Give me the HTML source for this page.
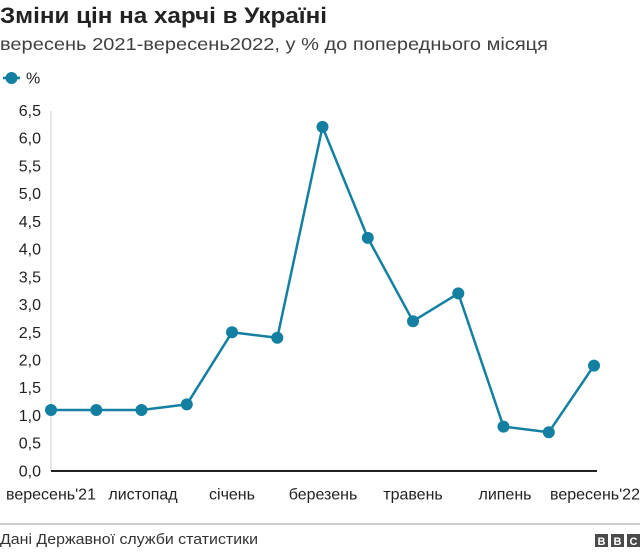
<!DOCTYPE html>
<html><head><meta charset="utf-8">
<style>
html,body{margin:0;padding:0;background:#fff;}
body{width:640px;height:552px;overflow:hidden;}
svg{display:block;}
text{font-family:"Liberation Sans",Arial,sans-serif;}
</style></head>
<body>
<svg width="640" height="552" viewBox="0 0 640 552" xmlns="http://www.w3.org/2000/svg">
<text x="0" y="23" font-size="22" font-weight="bold" fill="#222" textLength="327" lengthAdjust="spacingAndGlyphs">Зміни цін на харчі в Україні</text>
<text x="0" y="50" font-size="17.5" fill="#404040" textLength="548" lengthAdjust="spacingAndGlyphs">вересень 2021-вересень2022, у % до попереднього місяця</text>
<line x1="3" y1="78" x2="20" y2="78" stroke="#1380a1" stroke-width="2.5"/>
<circle cx="11.5" cy="78" r="6" fill="#1380a1"/>
<text x="26" y="83.5" font-size="16" fill="#222">%</text>
<g font-size="16" fill="#222" text-anchor="end">
<text x="41" y="116">6,5</text>
<text x="41" y="143.7">6,0</text>
<text x="41" y="171.4">5,5</text>
<text x="41" y="199.1">5,0</text>
<text x="41" y="226.9">4,5</text>
<text x="41" y="254.6">4,0</text>
<text x="41" y="282.3">3,5</text>
<text x="41" y="310">3,0</text>
<text x="41" y="337.8">2,5</text>
<text x="41" y="365.5">2,0</text>
<text x="41" y="393.2">1,5</text>
<text x="41" y="420.9">1,0</text>
<text x="41" y="448.7">0,5</text>
<text x="41" y="476.4">0,0</text>
</g>
<line x1="51" y1="111" x2="51" y2="471" stroke="#cccccc" stroke-width="1"/>
<line x1="51" y1="471" x2="597" y2="471" stroke="#222" stroke-width="2"/>
<polyline fill="none" stroke="#1380a1" stroke-width="2.5" stroke-linejoin="round"
points="51,410 96.3,410 141.5,410 186.8,404.4 232,332.3 277.3,337.8 322.5,126.9 367.8,237.9 413,321.2 458.3,293.4 503.5,426.6 548.8,432.2 594,365.6"/>
<g fill="#1380a1">
<circle cx="51" cy="410" r="6"/>
<circle cx="96.3" cy="410" r="6"/>
<circle cx="141.5" cy="410" r="6"/>
<circle cx="186.8" cy="404.4" r="6"/>
<circle cx="232" cy="332.3" r="6"/>
<circle cx="277.3" cy="337.8" r="6"/>
<circle cx="322.5" cy="126.9" r="6"/>
<circle cx="367.8" cy="237.9" r="6"/>
<circle cx="413" cy="321.2" r="6"/>
<circle cx="458.3" cy="293.4" r="6"/>
<circle cx="503.5" cy="426.6" r="6"/>
<circle cx="548.8" cy="432.2" r="6"/>
<circle cx="594" cy="365.6" r="6"/>
</g>
<g font-size="16" fill="#222" text-anchor="middle">
<text x="51" y="499.5">вересень'21</text>
<text x="143" y="499.5">листопад</text>
<text x="232" y="499.5">січень</text>
<text x="323" y="499.5">березень</text>
<text x="413" y="499.5">травень</text>
<text x="505" y="499.5">липень</text>
<text x="595" y="499.5">вересень'22</text>
</g>
<line x1="0" y1="524" x2="640" y2="524" stroke="#999" stroke-width="1"/>
<text x="0" y="544" font-size="14.5" fill="#333" textLength="258" lengthAdjust="spacingAndGlyphs">Дані Державної служби статистики</text>
<g>
<rect x="595" y="534" width="13" height="13" fill="#4a4a4a"/>
<rect x="611" y="534" width="13" height="13" fill="#4a4a4a"/>
<rect x="627" y="534" width="13" height="13" fill="#4a4a4a"/>
<g font-size="11" font-weight="bold" fill="#fff" text-anchor="middle">
<text x="601.5" y="545">B</text>
<text x="617.5" y="545">B</text>
<text x="633.5" y="545">C</text>
</g>
</g>
</svg>
</body></html>
